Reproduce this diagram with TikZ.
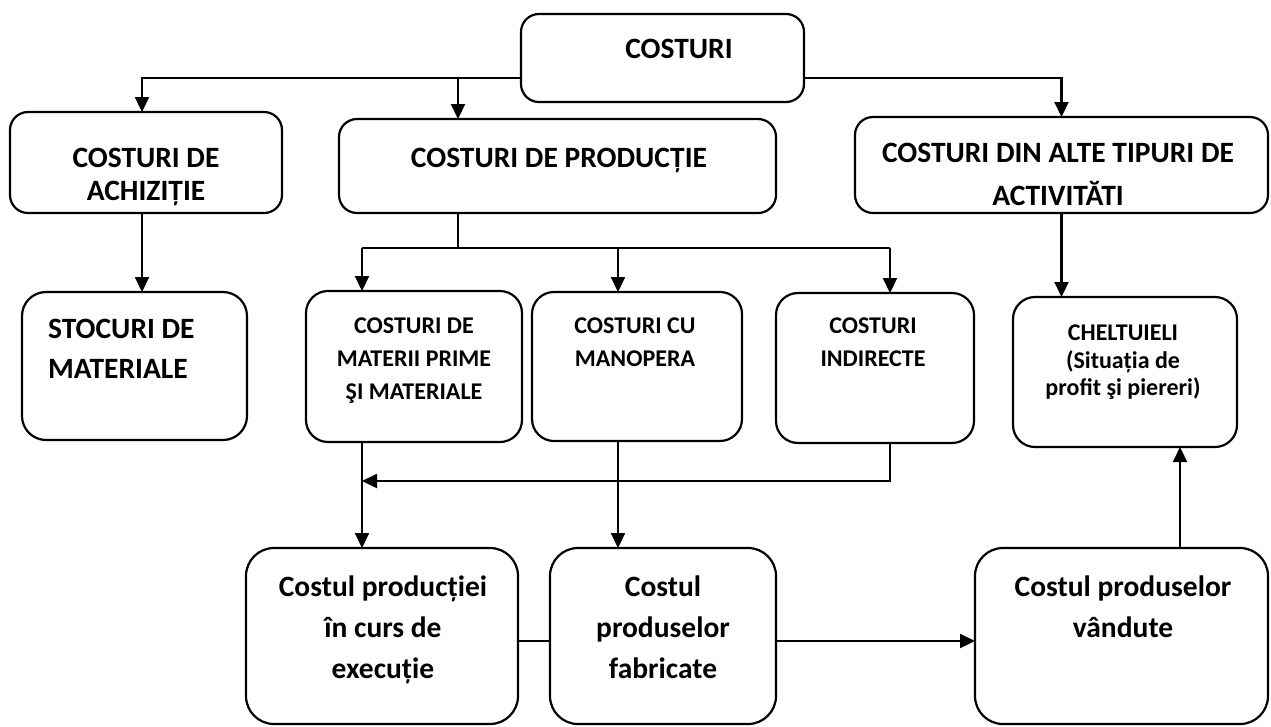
\documentclass[tikz,border=0pt]{standalone}
\usepackage{fontspec}
\setmainfont{Carlito}
\usetikzlibrary{arrows.meta}
\begin{document}
\begin{tikzpicture}[x=1pt,y=-1pt,
  box/.style={draw,line width=2.2pt,rounded corners=#1,inner sep=0pt,outer sep=0pt},
  box/.default=20pt,
  arr/.style={line width=2.2pt,-{Triangle[length=15pt,width=14pt]}},
  ln/.style={line width=2.2pt},
  big/.style={font=\fontsize{29.5}{33}\selectfont\bfseries,anchor=base,inner sep=0pt},
  mid/.style={font=\fontsize{24}{28}\selectfont\bfseries,anchor=base,inner sep=0pt},
  low/.style={font=\fontsize{29.5}{33}\selectfont\bfseries,anchor=base,inner sep=0pt}]
\useasboundingbox (0,0) rectangle (1271,726);
% boxes
\node[box=18pt,minimum width=283pt,minimum height=88pt] (cost) at (662.5,58) {};
\node[box=18pt,minimum width=272pt,minimum height=101pt] (achiz) at (146,162.5) {};
\node[box=18pt,minimum width=437pt,minimum height=94pt] (prod) at (557.5,166) {};
\node[box=18pt,minimum width=413pt,minimum height=96pt] (alte) at (1061.5,165) {};
\node[box=24pt,minimum width=225pt,minimum height=148pt] (stoc) at (134.5,366) {};
\node[box=22pt,minimum width=216pt,minimum height=151pt] (mat) at (414,366.5) {};
\node[box=22pt,minimum width=210pt,minimum height=149pt] (man) at (637,366.5) {};
\node[box=22pt,minimum width=198pt,minimum height=150pt] (ind) at (875,368) {};
\node[box=22pt,minimum width=224pt,minimum height=150pt] (chel) at (1125,372) {};
\node[box=28pt,minimum width=272pt,minimum height=176pt] (b1) at (382,636) {};
\node[box=28pt,minimum width=226pt,minimum height=176pt] (b2) at (663,636) {};
\node[box=28pt,minimum width=293pt,minimum height=176pt] (b3) at (1121.5,636) {};
% texts
\node[big] (tcost) at (679,58) {COSTURI};
\node[big] (ta1) at (146,167) {COSTURI DE};
\node[big] (ta2) at (146,200) {ACHIZIȚIE};
\node[big] (tp) at (559,167) {COSTURI DE PRODUCȚIE};
\node[big] (tal1) at (1058,162) {COSTURI DIN ALTE TIPURI DE};
\node[big] (tal2) at (1058,205) {ACTIVITĂTI};
\node[big,anchor=base west] (ts1) at (48,338) {STOCURI DE};
\node[big,anchor=base west] (ts2) at (48,378) {MATERIALE};
\node[mid] (tm1) at (414,333) {COSTURI DE};
\node[mid] (tm2) at (414,366) {MATERII PRIME};
\node[mid] (tm3) at (414,399) {ŞI MATERIALE};
\node[mid] (tn1) at (635,333) {COSTURI CU};
\node[mid] (tn2) at (635,366) {MANOPERA};
\node[mid] (ti1) at (873,333) {COSTURI};
\node[mid] (ti2) at (873,366) {INDIRECTE};
\node[mid] (tc1) at (1123,340) {CHELTUIELI};
\node[mid] (tc2) at (1123,368) {(Situația de};
\node[mid] (tc3) at (1123,395) {profit şi piereri)};
\node[low] (tb11) at (383,596) {Costul producției};
\node[low] (tb12) at (383,637) {în curs de};
\node[low] (tb13) at (383,678) {execuție};
\node[low] (tb21) at (663,596) {Costul};
\node[low] (tb22) at (663,637) {produselor};
\node[low] (tb23) at (663,678) {fabricate};
\node[low] (tb31) at (1123,596) {Costul produselor};
\node[low] (tb32) at (1123,637) {vândute};
% helper coordinates
\coordinate (hl) at (0,78);
\coordinate (ax) at (142,0);
\coordinate (pa) at (458,0);
\coordinate (dl) at (0,248);
\coordinate (mx) at (362,0);
\coordinate (nx) at (618,0);
\coordinate (ix) at (890,0);
\coordinate (rl) at (0,481);
\coordinate (bl) at (0,641);
\coordinate (cx) at (1180,0);
% connectors
\draw[arr] (cost.west |- hl) -| (ax |- achiz.north);
\draw[arr] (pa |- hl) -- (pa |- prod.north);
\draw[arr] (cost.east |- hl) -| (alte.north);
\draw[arr] (ax |- achiz.south) -- (ax |- stoc.north);
\draw[ln] (pa |- prod.south) -- (pa |- dl);
\draw[ln] (mx |- dl) -- (ix |- dl);
\draw[arr] (mx |- dl) -- (mx |- mat.north);
\draw[arr] (nx |- dl) -- (nx |- man.north);
\draw[arr] (ix |- dl) -- (ix |- ind.north);
\draw[arr] (alte.south) -- (alte.south |- chel.north);
\draw[arr] (mx |- mat.south) -- (mx |- b1.north);
\draw[arr] (ix |- ind.south) |- (mx |- rl);
\draw[arr] (nx |- man.south) -- (nx |- b2.north);
\draw[ln] (b1.east |- bl) -- (b2.west |- bl);
\draw[arr] (b2.east |- bl) -- (b3.west |- bl);
\draw[arr] (cx |- b3.north) -- (cx |- chel.south);
\end{tikzpicture}
\end{document}
